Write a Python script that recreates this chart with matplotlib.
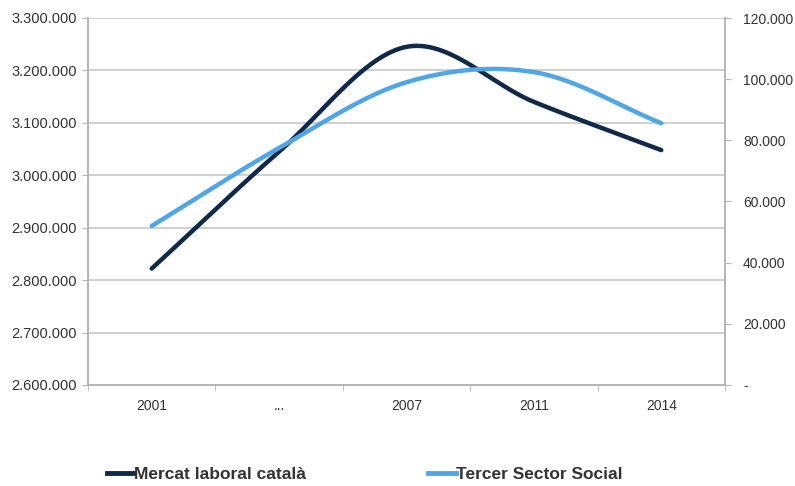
import numpy as np
import matplotlib
matplotlib.use("Agg")
import matplotlib.pyplot as plt
from matplotlib.lines import Line2D
from matplotlib.ticker import FixedLocator, FuncFormatter

# ---- data ----
categories = ["2001", "...", "2007", "2011", "2014"]
mercat_laboral = [2822000, 3045000, 3245000, 3140000, 3048000]   # left axis
tercer_sector = [52000, 77500, 99000, 102300, 85600]              # right axis
left_ticks = [2600000, 2700000, 2800000, 2900000, 3000000, 3100000, 3200000, 3300000]
right_ticks = [0, 20000, 40000, 60000, 80000, 100000, 120000]

DARK = "#10284a"
LIGHT = "#4ea6e6"
GRID = "#cfcfcf"
SPINE = "#b5b5b5"
TXT = "#333333"


def smooth(y, n=60):
    """Catmull-Rom (Excel-like) smoothing through the given points."""
    y = np.asarray(y, dtype=float)
    x = np.arange(len(y), dtype=float)
    m = np.zeros_like(y)
    m[1:-1] = (y[2:] - y[:-2]) / 2.0
    m[0] = (y[1] - y[0])
    m[-1] = (y[-1] - y[-2])
    xs, ys = [], []
    for i in range(len(y) - 1):
        t = np.linspace(0, 1, n, endpoint=(i == len(y) - 2))
        h00 = 2 * t**3 - 3 * t**2 + 1
        h10 = t**3 - 2 * t**2 + t
        h01 = -2 * t**3 + 3 * t**2
        h11 = t**3 - t**2
        ys.append(h00 * y[i] + h10 * m[i] + h01 * y[i + 1] + h11 * m[i + 1])
        xs.append(x[i] + t)
    return np.concatenate(xs), np.concatenate(ys)


def dotfmt(v, pos=None):
    return f"{int(round(v)):,}".replace(",", ".")


plt.rcParams["font.family"] = ["Liberation Sans", "DejaVu Sans"]

fig = plt.figure(figsize=(7.95, 4.86), dpi=100)
ax = fig.add_axes([88 / 795, 1 - 385 / 486, (725 - 88) / 795, (385 - 18) / 486])
ax2 = ax.twinx()

x_idx = np.arange(len(categories))

# grid + axes styling
ax.set_xlim(-0.5, len(categories) - 0.5)
ax.set_ylim(left_ticks[0], left_ticks[-1])
ax.yaxis.set_major_locator(FixedLocator(left_ticks))
ax.yaxis.set_major_formatter(FuncFormatter(dotfmt))
ax.grid(axis="y", color=GRID, linewidth=1.4)
ax.set_axisbelow(True)
ax.set_xticks(x_idx)
ax.set_xticklabels(categories)
ax.set_xticks(np.arange(-0.5, len(categories), 1.0), minor=True)
ax.tick_params(axis="x", which="major", length=0, pad=10, labelsize=10, labelcolor=TXT)
ax.tick_params(axis="x", which="minor", length=4, color=SPINE, direction="out")
ax.tick_params(axis="y", length=4, color=SPINE, labelsize=10.5, labelcolor=TXT, pad=4)

ax2.set_ylim(right_ticks[0], right_ticks[-1])
ax2.yaxis.set_major_locator(FixedLocator(right_ticks))
ax2.yaxis.set_major_formatter(FuncFormatter(lambda v, p: "-" if v == 0 else dotfmt(v)))
ax2.tick_params(axis="y", length=4, color=SPINE, labelsize=10, labelcolor=TXT, pad=9)

for a in (ax, ax2):
    a.spines["top"].set_visible(False)
    for s in ("left", "right", "bottom"):
        a.spines[s].set_color(SPINE)
        a.spines[s].set_linewidth(1.2)

# lines
xs, ys = smooth(mercat_laboral)
ax.plot(xs, ys, color=DARK, linewidth=3.2, solid_capstyle="round", zorder=3)
xs2, ys2 = smooth(tercer_sector)
ax2.plot(xs2, ys2, color=LIGHT, linewidth=3.2, solid_capstyle="round", zorder=3)

# legend
handles = [Line2D([], [], color=DARK, linewidth=3.5),
           Line2D([], [], color=LIGHT, linewidth=3.5)]
labels = ["Mercat laboral català", "Tercer Sector Social"]
leg = fig.legend(handles, labels, loc="center left", bbox_to_anchor=(91 / 795, 1 - 474 / 486),
                 ncol=2, frameon=False, handlelength=1.6, handletextpad=0.0,
                 columnspacing=7.0,
                 prop={"family": ["Liberation Sans", "DejaVu Sans"],
                       "weight": "bold", "size": 12.5})
for t in leg.get_texts():
    t.set_color(TXT)

fig.savefig("out.png", dpi=100)
